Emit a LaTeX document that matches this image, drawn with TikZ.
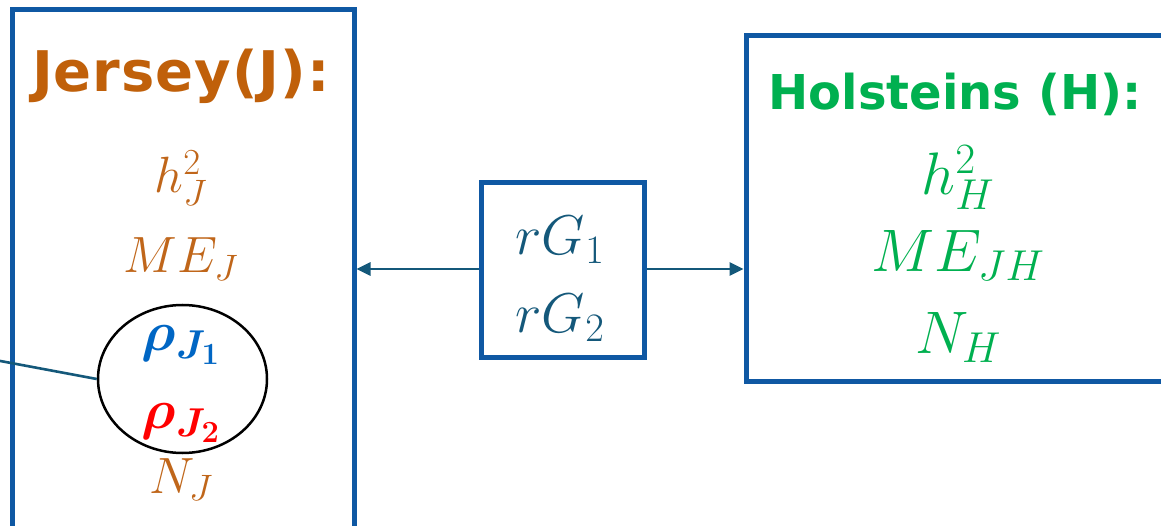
\RequirePackage{fix-cm}
\documentclass[tikz,border=0pt]{standalone}
\usepackage{amsmath,bm}
\usepackage{fontspec}
\newfontfamily\headfont{DejaVu Sans}
\renewcommand\defaultscriptratio{.72}
\renewcommand\defaultscriptscriptratio{.55}
\usetikzlibrary{arrows.meta,shapes.geometric}
\definecolor{boxblue}{HTML}{0F58A3}
\definecolor{teal}{HTML}{14587A}
\definecolor{jorange}{HTML}{C0600A}
\definecolor{morange}{HTML}{C0661A}
\definecolor{hgreen}{HTML}{00B050}
\definecolor{rblue}{HTML}{0066C4}
\tikzset{
  frame/.style={draw=boxblue, line width=5pt, rectangle, inner sep=0pt},
  arr/.style={draw=teal, line width=2.6pt, -{Triangle[length=14pt,width=13pt]}},
  conn/.style={draw=teal, line width=2.6pt},
  lm/.style={anchor=base, inner sep=0pt, text=morange, font=\fontsize{51}{60}\selectfont},
  rm/.style={anchor=base, inner sep=0pt, text=hgreen, font=\fontsize{60}{70}\selectfont},
  mm/.style={anchor=base, inner sep=0pt, text=teal, font=\fontsize{56}{66}\selectfont},
  head/.style={anchor=base, inner sep=0pt, font=\headfont\bfseries},
}
\begin{document}
\begin{tikzpicture}[x=1pt,y=-1pt]
\clip (0,0) rectangle (1161,526);
\fill[white] (0,0) rectangle (1161,526);
% boxes
\node[frame, minimum width=342pt, minimum height=530pt] (left) at (183,275) {};
\node[frame, minimum width=163pt, minimum height=174pt] (mid) at (562.5,270) {};
\node[frame, minimum width=434pt, minimum height=345pt] (right) at (963,208.5) {};
% ellipse
\node[ellipse, draw=black, line width=2.5pt, minimum width=169pt, minimum height=148pt, inner sep=0pt] (ell) at (182.5,379) {};
\coordinate (lx) at (-5,360);
\draw[conn] (ell.west) -- (lx);
% arrows
\draw[arr] (mid.west |- 0,269) -- (left.east |- 0,269);
\draw[arr] (mid.east |- 0,269) -- (right.west |- 0,269);
% left texts
\node[head, text=jorange, font=\headfont\bfseries\fontsize{56}{60}\selectfont\addfontfeature{LetterSpace=1.8}] (jt) at (181,92) {Jersey(J):};
\node[lm] (hj) at (181,193) {$h_J^2$};
\node[lm] (mej) at (181,273) {$ME_J$};
\node[lm, text=rblue, font=\fontsize{56}{64}\selectfont] (r1) at (181,350) {$\boldsymbol{\rho_{J_1}}$};
\node[lm, text=red, font=\fontsize{56}{64}\selectfont] (r2) at (181,428) {$\boldsymbol{\rho_{J_2}}$};
\node[lm] (nj) at (181,493) {$N_J$};
% middle texts
\node[mm] (g1) at (560,255) {$rG_1$};
\node[mm] (g2) at (560,333) {$rG_2$};
% right texts
\node[head, text=hgreen, font=\headfont\bfseries\fontsize{48}{56}\selectfont] (ht) at (955,110) {Holsteins (H):};
\node[rm] (hh) at (958,195) {$h_H^2$};
\node[rm] (meh) at (958,272) {$ME_{JH}$};
\node[rm] (nh) at (958,353) {$N_H$};
\end{tikzpicture}
\end{document}
